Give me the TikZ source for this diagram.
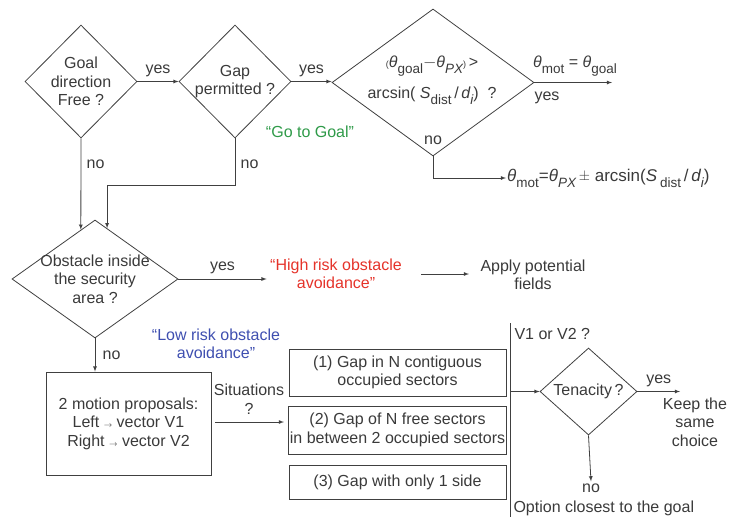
\documentclass[tikz,border=0pt]{standalone}
\usepackage{fontspec}
\setmainfont{Liberation Sans}
\usepackage{xcolor}
\usepackage{tikz}
\usetikzlibrary{shapes.geometric}
\usetikzlibrary{calc}
\definecolor{inkgray}{HTML}{3A3A3A}
\definecolor{linegray}{HTML}{404040}
\definecolor{goalgreen}{HTML}{2E9A48}
\definecolor{riskred}{HTML}{E5332A}
\definecolor{riskblue}{HTML}{3F4FB0}
\newcommand{\lowtxt}[1]{\raisebox{-6pt}{\fontsize{13.5}{13.5}\selectfont #1}}
\newcommand{\thsub}[1]{{\itshape θ}\lowtxt{#1}}

\begin{document}
\begin{tikzpicture}[x=1pt,y=-1pt,
    every node/.style={font=\fontsize{16}{18.5}\selectfont,text=inkgray,align=center},
    decide/.style={diamond,draw=linegray,line width=0.8pt,inner sep=0pt},
    case/.style={rectangle,draw=linegray,line width=0.8pt,inner sep=1.5pt},
    flow/.style={draw=linegray,line width=0.8pt,-latex},
    plain/.style={draw=linegray,line width=0.8pt}]
    \useasboundingbox (0,0) rectangle (733,517);
    % decisions
    \node[decide,minimum width=112pt,minimum height=113pt] (goalfree) at (81,81.5) {};
    \node (goalfreetxt) at (goalfree) {Goal\\direction\\Free ?};
    \node[decide,minimum width=112pt,minimum height=113pt] (gapok) at (235,81.5) {};
    \node (gapoktxt) at (gapok) {Gap\\permitted ?};
    \node[decide,minimum width=202pt,minimum height=147pt] (angle) at (433,82.5) {};
    \node (angletxt) at (432,80) {{\small(}\thsub{goal}$-$\thsub{\itshape PX}{\small)}\,>\\[10pt]arcsin( {\itshape S}\lowtxt{dist}\,/\,{\itshape d}\lowtxt{\itshape i}) \ ?};
    \node[decide,minimum width=166pt,minimum height=118pt] (obst) at (95,279) {};
    \node (obsttxt) at (obst) {Obstacle inside\\the security\\area ?};
    \node[decide,minimum width=97pt,minimum height=87pt] (tenac) at (588.5,391.5) {};
    \node (tenactxt) at (tenac) {Tenacity\,?};
    % boxes
    \node[case,minimum width=165pt,minimum height=103pt] (propose) at (128.5,423.5) {2 motion proposals:\\Left $\scriptscriptstyle\rightarrow$ vector V1\\Right $\scriptscriptstyle\rightarrow$ vector V2};
    \node[case,minimum width=217pt,minimum height=47pt] (sit1) at (397.5,372.5) {(1) Gap in N contiguous\\occupied sectors};
    \node[case,minimum width=217pt,minimum height=48pt] (sit2) at (397.5,430) {(2) Gap of N free sectors\\in between 2 occupied sectors};
    \node[case,minimum width=217pt,minimum height=34pt] (sit3) at (397.5,482) {(3) Gap with only 1 side};
    % texts
    \node[text=goalgreen] (gotogoal) at (310,132) {“Go to Goal”};
    \node[text=riskred] (highrisk) at (336,274) {“High risk obstacle\\avoidance”};
    \node (potential) at (533,275) {Apply potential\\fields};
    \node[text=riskblue] (lowrisk) at (216,344) {“Low risk obstacle\\avoidance”};
    \node (mot1) at (575,66) {\thsub{mot} = \thsub{goal}};
    \node[anchor=west,inner sep=1pt,font=\fontsize{17}{18.5}\selectfont] (mot2) at (506,178) {\thsub{mot}=\thsub{\itshape PX}\,\raisebox{1pt}{\Large$\pm$}\;arcsin({\itshape S}\,\lowtxt{dist}\,/\,{\itshape d}\lowtxt{\itshape i})};
    \node (situ) at (249,399) {Situations\\?};
    \node[anchor=west] (v1v2) at (511,334) {V1 or V2 ?};
    \node (keep) at (695,422) {Keep the\\same\\choice};
    \node[inner sep=2pt] (tenacno) at (591,488) {no};
    \node[anchor=west] (closest) at (510,508) {Option closest to the goal};
    % connectors
    \draw[flow] (goalfree.east) -- node[above,yshift=1pt]{yes} (gapok.west);
    \draw[flow] (gapok.east) -- node[above,yshift=1pt]{yes} (gapok.east -| angle.west);
    \coordinate (yesend) at (612,82.5);
    \draw[flow] (angle.east) -- (yesend);
    \node (angleyes) at (547,98) {yes};
    \node (angleno) at (433,140) {no};
    \draw[flow] (angle.south) |- (mot2.west);
    \draw[flow] (goalfree.south) -- node[right,pos=0.28,xshift=2pt]{no} ($(obst.west)!0.83!(obst.north)$);
    \draw[flow] (gapok.south) -- node[right,pos=0.55,xshift=2pt]{no} ++(0,47) -| ($(obst.north)!0.145!(obst.east)$);
    \draw[flow] (obst.east) -- node[above,yshift=1pt]{yes} (obst.east -| highrisk.west);
    \draw[flow] ([xshift=16pt]highrisk.east) -- ([xshift=-8pt]highrisk.east -| potential.west);
    \draw[flow] (obst.south) -- node[right,xshift=4pt]{no} (obst.south |- propose.north);
    \draw[flow] ([xshift=4pt,yshift=1.5pt]propose.east) -- ([xshift=-4pt,yshift=1.5pt]propose.east -| sit2.west);
    \coordinate (vtop) at (510,323);
    \coordinate (vbot) at (510,517);
    \draw[plain] (vtop) -- (vbot);
    \draw[flow] (vtop |- tenac.west) -- (tenac.west);
    \coordinate (keepend) at (680,391.5);
    \draw[flow] (tenac.east) -- node[above,yshift=1pt]{yes} (keepend);
    \draw[flow] (tenac.south) -- (tenacno.north);
\end{tikzpicture}
\end{document}
